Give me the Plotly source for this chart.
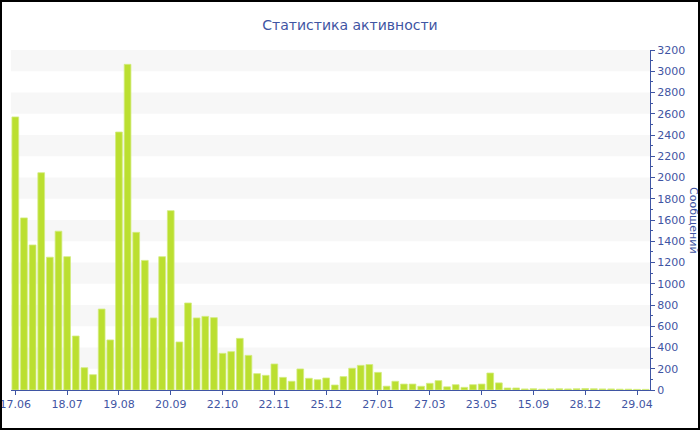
import plotly.graph_objects as go

# Data
values = [2570, 1620, 1365, 2045, 1250, 1495, 1255, 508, 210, 144,
          762, 471, 2428, 3065, 1484, 1220, 678, 1255, 1688, 452,
          819, 678, 693, 681, 345, 361, 486, 326, 154, 138,
          245, 119, 82, 198, 110, 97, 113, 47, 126, 205,
          232, 240, 166, 36, 82, 56, 56, 35, 63, 88,
          30, 50, 25, 50, 56, 160, 67, 19, 19, 10,
          12, 8, 10, 12, 10, 12, 14, 12, 10, 10,
          8, 8, 6, 6]
tick_positions = [0, 6, 12, 18, 24, 30, 36, 42, 48, 54, 60, 66, 72]
tick_labels = ["17.06", "18.07", "19.08", "20.09", "22.10", "22.11", "25.12",
               "27.01", "27.03", "23.05", "15.09", "28.12", "29.04"]
title_text = "Статистика активности"
y_title = "Сообщений"

BLUE = "#3f55a3"
BAR = "#bbdf30"
FONT = "DejaVu Sans"

x = list(range(len(values)))

fig = go.Figure()
fig.add_trace(go.Bar(
    x=x, y=values,
    marker=dict(color=BAR, line=dict(color="#d3ec80", width=0.8)),
    hoverinfo="y",
))

shapes = []
# alternating light bands
for lo in range(200, 3200, 400):
    shapes.append(dict(type="rect", xref="paper", yref="y", x0=0, x1=1,
                       y0=lo, y1=lo + 200, fillcolor="#f7f7f7",
                       line=dict(width=0), layer="below"))

# outer black border (in paper coords extending to the full canvas)
W, H = 700, 430
ml, mr, mt, mb = 11, 50, 50, 40
pw, ph = W - ml - mr, H - mt - mb
def px_x(p):
    return (p - ml) / pw
def px_y(p):
    return (H - mb - p) / ph
shapes.append(dict(type="rect", xref="paper", yref="paper",
                   x0=px_x(1), x1=px_x(699), y0=px_y(429), y1=px_y(1),
                   line=dict(color="black", width=2), fillcolor="rgba(0,0,0,0)",
                   layer="above"))

fig.update_layout(
    width=W, height=H,
    margin=dict(l=ml, r=mr, t=mt, b=mb, pad=0, autoexpand=False),
    paper_bgcolor="white", plot_bgcolor="white",
    font=dict(family=FONT, color=BLUE, size=11),
    title=dict(text=title_text, x=0.5, xref="container", xanchor="center",
               y=1 - 25 / H, yanchor="middle",
               font=dict(family=FONT, size=14, color=BLUE)),
    bargap=0.22,
    showlegend=False,
    shapes=shapes,
    xaxis=dict(
        range=[-0.5, len(values) - 0.5],
        tickmode="array", tickvals=tick_positions, ticktext=tick_labels,
        showgrid=False, zeroline=False, automargin=False,
        ticklabeloverflow="allow",
        showline=True, linecolor=BLUE, linewidth=1,
        ticks="outside", ticklen=4, tickcolor=BLUE,
        tickfont=dict(family=FONT, size=11, color=BLUE),
    ),
    yaxis=dict(
        side="right", range=[0, 3200], dtick=200, tick0=0,
        showgrid=False, zeroline=False, automargin=False,
        ticklabeloverflow="allow",
        showline=True, linecolor=BLUE, linewidth=1,
        ticks="outside", ticklen=4, tickcolor=BLUE,
        minor=dict(dtick=100, ticks="outside", ticklen=2, tickcolor=BLUE, showgrid=False),
        tickfont=dict(family=FONT, size=11, color=BLUE),
    ),
    annotations=[dict(
        text=y_title, textangle=90, xref="paper", yref="paper",
        x=px_x(694), y=0.5, xanchor="center", yanchor="middle",
        showarrow=False, font=dict(family=FONT, size=11, color=BLUE),
    )],
)

fig.write_html(
    "out.html",
    config={"displayModeBar": False},
    post_script="document.body.style.margin='0';document.body.style.overflow='hidden';",
)
